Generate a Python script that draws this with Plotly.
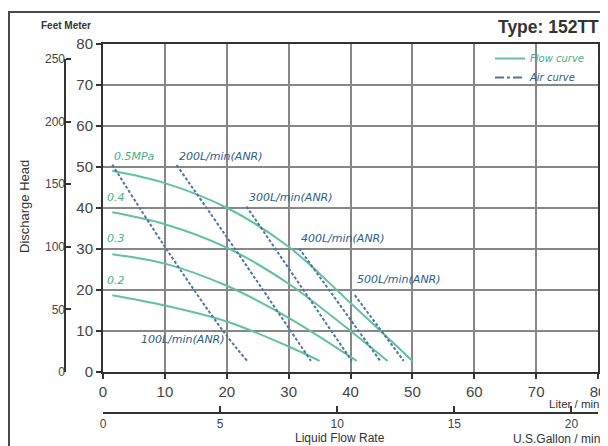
import plotly.graph_objects as go

# ---------------- data ----------------
# flow curves: discharge head (m) vs liquid flow rate (L/min) at each air pressure
flow_05_x = [1.5, 10, 20, 30, 40, 50]
flow_05_y = [49.0, 46.0, 40.0, 30.5, 16.8, 2.7]
flow_04_x = [1.5, 10, 20, 30, 40, 46]
flow_04_y = [38.9, 36.0, 30.3, 21.5, 10.0, 2.7]
flow_03_x = [1.5, 10, 20, 30, 41]
flow_03_y = [28.7, 26.4, 21.0, 13.2, 2.7]
flow_02_x = [1.5, 10, 20, 30, 35]
flow_02_y = [18.7, 16.2, 12.3, 6.2, 2.7]

# air consumption curves
air_100_x = [1.5, 10, 19.4, 23.3]
air_100_y = [50.5, 30.5, 10.0, 2.7]
air_200_x = [11.9, 22, 33.6]
air_200_y = [50.4, 28.5, 2.7]
air_300_x = [23.2, 40.2]
air_300_y = [40.3, 2.7]
air_400_x = [31.7, 44.8]
air_400_y = [30.1, 2.7]
air_500_x = [40.7, 48.6]
air_500_y = [18.7, 2.7]

pressure_labels = ['0.5MPa', '0.4', '0.3', '0.2']
air_labels = ['100L/min(ANR)', '200L/min(ANR)', '300L/min(ANR)',
              '400L/min(ANR)', '500L/min(ANR)']

feet_ticks = [0, 50, 100, 150, 200, 250]
gallon_ticks = [0, 5, 10, 15, 20]

# ---------------- styling ----------------
W, H = 608, 446
OFF = 8  # the page body margin shifts the figure by 8px
GREEN = '#62c19e'
GREEN_TXT = '#45b08c'
BLUE = '#4f74a8'
BLUE_TXT = '#2d5d8c'
GRID = '#878787'
DARK = '#333333'
FONT = 'Liberation Sans, Arial, sans-serif'
LFONT = 'DejaVu Sans, sans-serif'


def px(x):
    return (x - OFF) / W


def py(y):
    return 1 - (y - OFF) / H


fig = go.Figure()

flows = [(flow_05_x, flow_05_y), (flow_04_x, flow_04_y),
         (flow_03_x, flow_03_y), (flow_02_x, flow_02_y)]
for i, (fx, fy) in enumerate(flows):
    fig.add_trace(go.Scatter(
        x=fx, y=fy, mode='lines',
        line=dict(color=GREEN, width=2, shape='spline'),
        name=f"<span style='color:{GREEN_TXT}'>Flow curve</span>",
        legendgroup='flow', showlegend=(i == 0),
    ))

airs = [(air_100_x, air_100_y), (air_200_x, air_200_y), (air_300_x, air_300_y),
        (air_400_x, air_400_y), (air_500_x, air_500_y)]
for ax_, ay_ in airs:
    fig.add_trace(go.Scatter(
        x=ax_, y=ay_, mode='lines',
        line=dict(color=BLUE, width=2, dash='3px,2px', shape='spline'),
        showlegend=False,
    ))

# legend-only entry for the air curve (dash-dot sample)
fig.add_trace(go.Scatter(
    x=[None], y=[None], mode='lines',
    line=dict(color=BLUE, width=2, dash='dashdot'),
    name=f"<span style='color:{BLUE_TXT}'>Air curve</span>", showlegend=True,
))

# pressure labels, next to the start of each flow curve
p_pos = [(flows[0][0][0], 52.4)] + [(0.3, 42.4), (0.3, 32.4), (0.3, 22.4)]
for lab, (lx, ly) in zip(pressure_labels, p_pos):
    fig.add_annotation(x=lx, y=ly, text=lab, showarrow=False, xanchor='left', yanchor='middle',
                       font=dict(family=LFONT, size=11, color=GREEN_TXT, style='italic'))

# air labels
a_pos = [(20.0, 7.8, 'right'), (air_200_x[0], 52.4, 'left'),
         (air_300_x[0], 42.6, 'left'), (air_400_x[0], 32.4, 'left'),
         (air_500_x[0], 22.6, 'left')]
for lab, (lx, ly, anc) in zip(air_labels, a_pos):
    fig.add_annotation(x=lx, y=ly, text=lab, showarrow=False, xanchor=anc, yanchor='middle',
                       font=dict(family=LFONT, size=11, color=BLUE_TXT, style='italic'))


def note(x, y, text, size, anchor='center', angle=0):
    fig.add_annotation(x=px(x), y=py(y), xref='paper', yref='paper', text=text,
                       showarrow=False, xanchor=anchor, yanchor='middle', textangle=angle,
                       font=dict(family=FONT, size=size, color=DARK))


# texts around the chart
note(496, 27, '<b>Type: 152TT</b>', 17.5, 'left')
note(66, 25, '<b>Feet Meter</b>', 10)
note(24, 207, 'Discharge Head', 13, angle=-90)
note(547, 404, 'Liter / min', 11.5, 'left')
note(340, 438, 'Liquid Flow Rate', 12)
note(511, 439, 'U.S.Gallon / min', 12, 'left')

# outer frame (cropped on right and bottom)
fig.add_shape(type='rect', xref='paper', yref='paper',
              x0=px(9), x1=px(640), y0=py(480), y1=py(12),
              line=dict(color='#4a4a4a', width=2))
# feet axis line, 0 to 250 ft
fig.add_shape(type='line', xref='paper', yref='y2', x0=px(65), x1=px(65),
              y0=feet_ticks[0], y1=feet_ticks[-1], line=dict(color=DARK, width=2))

fig.update_layout(
    width=W, height=H,
    margin=dict(l=0, r=0, t=0, b=0, autoexpand=False),
    paper_bgcolor='white', plot_bgcolor='white',
    font=dict(family=FONT, color=DARK),
    xaxis=dict(
        domain=[px(103), px(598)], range=[0, 80], dtick=10,
        showgrid=True, gridcolor=GRID, gridwidth=2, zeroline=False,
        showline=True, linecolor=DARK, linewidth=2, mirror=True,
        ticks='outside', ticklen=5, tickcolor=DARK, tickwidth=1.5,
        tickfont=dict(size=15, color='#444444'), automargin=False,
        ticklabeloverflow='allow',
    ),
    yaxis=dict(
        domain=[py(372), py(43.5)], range=[0, 80], dtick=10,
        showgrid=True, gridcolor=GRID, gridwidth=2, zeroline=False,
        showline=True, linecolor=DARK, linewidth=2, mirror=True,
        ticks='outside', ticklen=5, tickcolor=DARK, tickwidth=1.5,
        tickfont=dict(size=15, color='#444444'), automargin=False,
    ),
    yaxis2=dict(
        overlaying='y', anchor='free', position=px(65), side='left',
        range=[0, 80 * 3.28084], tickvals=feet_ticks,
        showgrid=False, zeroline=False, showline=False,
        ticks='inside', ticklen=5, tickcolor=DARK, tickwidth=1.5,
        tickfont=dict(size=12, color='#444444'), automargin=False,
    ),
    xaxis2=dict(
        overlaying='x', anchor='free', position=py(413), side='bottom',
        domain=[px(103), px(598)], range=[0, 80 / 3.78541], tickvals=gallon_ticks,
        showgrid=False, zeroline=False,
        showline=True, linecolor=DARK, linewidth=2,
        ticks='inside', ticklen=6, tickcolor=DARK, tickwidth=1.5,
        tickfont=dict(size=12, color='#444444'), automargin=False,
    ),
    legend=dict(
        x=px(490), y=py(44), xanchor='left', yanchor='top',
        bgcolor='rgba(0,0,0,0)', font=dict(family=LFONT, size=10, style='italic'),
        itemwidth=30, tracegroupgap=0,
    ),
)

# a trace on the secondary axes so they get drawn
fig.add_trace(go.Scatter(x=[None], y=[None], xaxis='x2', yaxis='y2', showlegend=False))

fig.write_html("out.html")
